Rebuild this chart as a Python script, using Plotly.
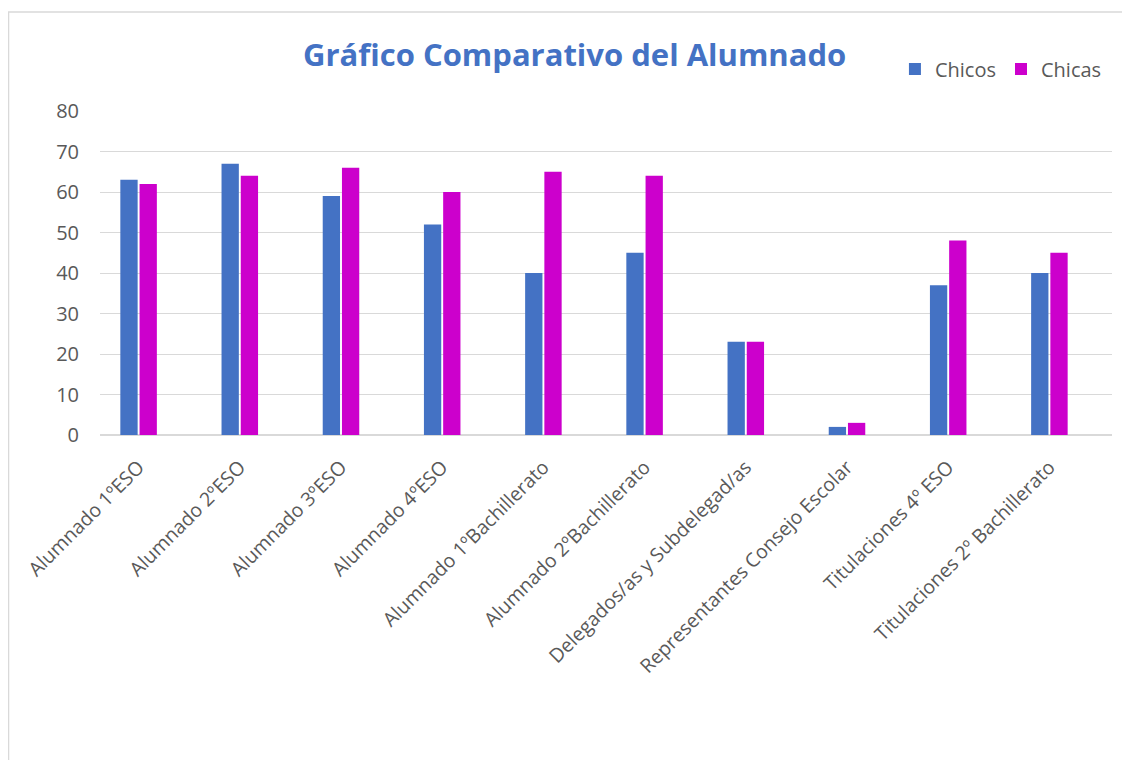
import plotly.graph_objects as go

categories = [
    "Alumnado 1ºESO",
    "Alumnado 2ºESO",
    "Alumnado 3ºESO",
    "Alumnado 4ºESO",
    "Alumnado 1ºBachillerato",
    "Alumnado 2ºBachillerato",
    "Delegados/as y Subdelegad/as",
    "Representantes Consejo Escolar",
    "Titulaciones 4º ESO",
    "Titulaciones 2º Bachillerato",
]
chicos = [63, 67, 59, 52, 40, 45, 23, 2, 37, 40]
chicas = [62, 64, 66, 60, 65, 64, 23, 3, 48, 45]
y_ticks = [0, 10, 20, 30, 40, 50, 60, 70, 80]

FONT = "'Open Sans', sans-serif"
GRAY = "#595959"

fig = go.Figure()
fig.add_trace(go.Bar(name="Chicos", x=categories, y=chicos,
                     marker=dict(color="#4472C4", line=dict(width=0))))
fig.add_trace(go.Bar(name="Chicas", x=categories, y=chicas,
                     marker=dict(color="#CC00CC", line=dict(width=0))))

n = len(categories)
shift = 0.1186

fig.update_layout(
    width=1130, height=760,
    margin=dict(l=92, r=26, t=103, b=333),
    paper_bgcolor="white", plot_bgcolor="white",
    barmode="group", bargap=0.62, bargroupgap=0.1,
    font=dict(family=FONT, color=GRAY, size=18),
    title=dict(text="<b>Gráfico Comparativo del Alumnado</b>",
               font=dict(family=FONT, size=31, color="#4472C4"),
               x=0.469, xanchor="center", xref="paper",
               y=0.938, yanchor="middle", yref="container"),
    legend=dict(orientation="h", x=0.995, xanchor="right", y=1.13, yanchor="middle",
                font=dict(size=20, color=GRAY), bgcolor="rgba(0,0,0,0)",
                itemwidth=30, traceorder="normal"),
    showlegend=True,
    xaxis=dict(tickangle=-45, tickfont=dict(size=19.5, color=GRAY),
               range=[-0.5 + shift, n - 0.5 + shift],
               showgrid=False, showline=False, ticks="", zeroline=False,
               ticklabelstandoff=16),
    yaxis=dict(range=[0, 80], tickvals=y_ticks, showgrid=True, gridcolor="#D9D9D9",
               gridwidth=1, zeroline=True, zerolinecolor="#D9D9D9", zerolinewidth=1.5,
               tickfont=dict(size=20, color=GRAY), ticks="", ticklabelstandoff=20,
               showline=False),
    shapes=[dict(type="rect", xref="paper", yref="paper",
                 x0=-0.0904, x1=1.2, y0=-2.0, y1=1.3056,
                 line=dict(color="#D9D9D9", width=1.5), fillcolor="rgba(0,0,0,0)",
                 layer="below")],
)

fig.write_html("out.html")
